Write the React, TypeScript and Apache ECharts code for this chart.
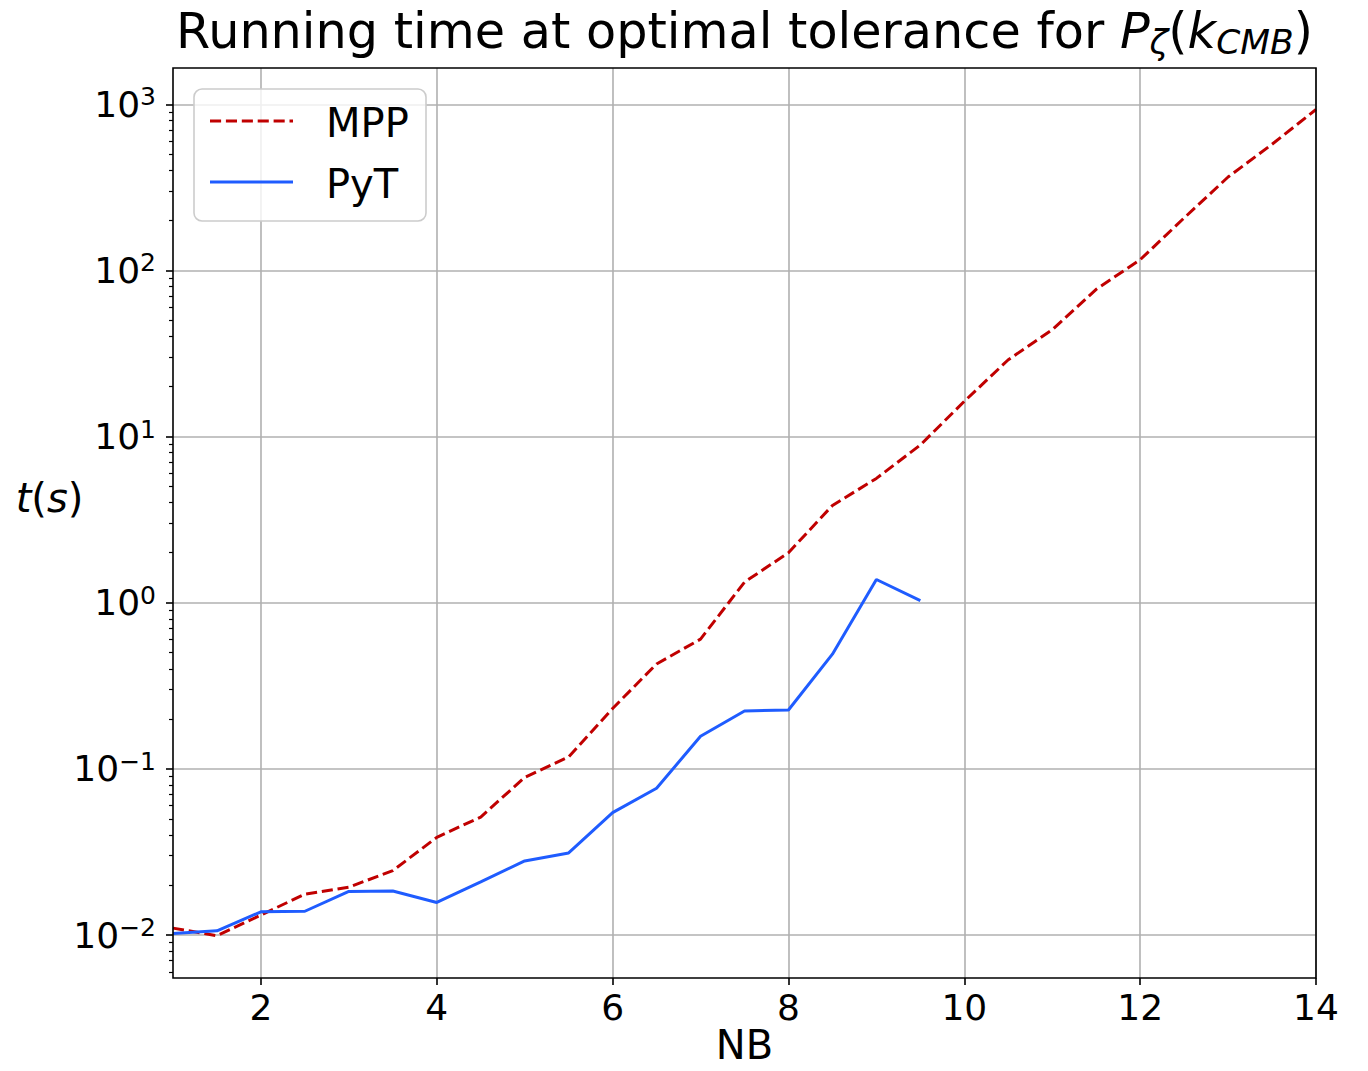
import React, { useEffect, useRef } from "react";
import * as echarts from "echarts";

// Number of blocks (x) and running times in seconds for each method
const nbValues = [
  1, 1.5, 2, 2.5, 3, 3.5, 4, 4.5, 5, 5.5, 6, 6.5, 7, 7.5, 8, 8.5, 9, 9.5, 10,
  10.5, 11, 11.5, 12, 12.5, 13, 13.5, 14,
];
const mppTimes = [
  0.011, 0.0099, 0.0132, 0.0176, 0.0194, 0.0244, 0.0387, 0.0513, 0.0889, 0.118,
  0.231, 0.428, 0.604, 1.33, 2.0, 3.85, 5.6, 8.9, 16.3, 29.0, 44.0, 77.0, 116,
  207, 365, 575, 930,
];
const pytNb = [1, 1.5, 2, 2.5, 3, 3.5, 4, 4.5, 5, 5.5, 6, 6.5, 7, 7.5, 8, 8.5, 9, 9.5];
const pytTimes = [
  0.0102, 0.0106, 0.0138, 0.0139, 0.0183, 0.0184, 0.0157, 0.0209, 0.0279, 0.0312,
  0.0545, 0.0765, 0.157, 0.223, 0.226, 0.49, 1.38, 1.03,
];

// Axis ticks
const xTicks = [2, 4, 6, 8, 10, 12, 14];
const yExponents = [-2, -1, 0, 1, 2, 3];

// Plot frame (pixels) and log10 range of the y axis
const FRAME = { left: 173, top: 68, width: 1143, height: 910 };
const Y_MIN = -2.2588;
const Y_MAX = 3.2185;
const X_MIN = 1;
const X_MAX = 14;

const RED = "#c00000";
const BLUE = "#1f5cff";
const FONT = "DejaVu Sans";

function minorLogTicks(): number[] {
  const out: number[] = [];
  for (let e = -3; e <= 3; e++) {
    for (let k = 2; k <= 9; k++) {
      const v = e + Math.log10(k);
      if (v > Y_MIN && v < Y_MAX) out.push(v);
    }
  }
  return out;
}

function supLabel(v: number): string {
  const e = Math.round(v);
  const s = e < 0 ? "\u2212" + String(-e) : String(e);
  return `{b|10}{e|${s}}`;
}

export default function App() {
  const ref = useRef<HTMLDivElement>(null);

  useEffect(() => {
    if (!ref.current) return;
    const chart = echarts.init(ref.current, undefined, { renderer: "svg" });

    const mppData = nbValues.map((x, i) => [x, Math.log10(mppTimes[i])]);
    const pytData = pytNb.map((x, i) => [x, Math.log10(pytTimes[i])]);

    const legendLeft = 194;
    const legendTop = 89;

    chart.setOption({
      animation: false,
      backgroundColor: "#ffffff",
      grid: {
        left: FRAME.left,
        top: FRAME.top,
        width: FRAME.width,
        height: FRAME.height,
        containLabel: false,
        outerBoundsMode: "none",
      },
      xAxis: {
        type: "value",
        min: X_MIN,
        max: X_MAX,
        axisLine: { show: false, onZero: false },
        axisTick: {
          show: true,
          customValues: xTicks,
          length: 7,
          lineStyle: { color: "#000", width: 1.6 },
        },
        axisLabel: {
          customValues: xTicks,
          fontFamily: FONT,
          fontSize: 36,
          color: "#000",
          margin: 11,
        },
        splitLine: { show: true, lineStyle: { color: "#b0b0b0", width: 1.6 } },
      },
      yAxis: [
        {
          type: "value",
          min: Y_MIN,
          max: Y_MAX,
          position: "left",
          axisLine: { show: false, onZero: false },
          axisTick: {
            show: true,
            customValues: yExponents,
            length: 7,
            lineStyle: { color: "#000", width: 1.6 },
          },
          axisLabel: {
            customValues: yExponents,
            margin: 17,
            formatter: (v: number) => supLabel(v),
            rich: {
              b: { fontFamily: FONT, fontSize: 36, color: "#000", lineHeight: 40 },
              e: {
                fontFamily: FONT,
                fontSize: 25,
                color: "#000",
                lineHeight: 26,
                verticalAlign: "top",
              },
            },
          },
          splitLine: { show: true, lineStyle: { color: "#b0b0b0", width: 1.6 } },
        },
        {
          type: "value",
          min: Y_MIN,
          max: Y_MAX,
          position: "left",
          axisLine: { show: false, onZero: false },
          axisLabel: { show: false },
          splitLine: { show: false },
          axisTick: {
            show: true,
            customValues: minorLogTicks(),
            length: 4,
            lineStyle: { color: "#000", width: 1.2 },
          },
        },
      ],
      series: [
        {
          name: "MPP",
          type: "line",
          data: mppData,
          yAxisIndex: 0,
          showSymbol: false,
          symbol: "none",
          lineStyle: { color: RED, width: 3, type: [11.1, 4.8] },
          z: 3,
        },
        {
          name: "PyT",
          type: "line",
          data: pytData,
          yAxisIndex: 0,
          showSymbol: false,
          symbol: "none",
          lineStyle: { color: BLUE, width: 3 },
          z: 4,
        },
      ],
      graphic: [
        // axes frame drawn above the grid lines
        {
          type: "rect",
          z: 50,
          silent: true,
          shape: {
            x: FRAME.left,
            y: FRAME.top,
            width: FRAME.width,
            height: FRAME.height,
          },
          style: { fill: "none", stroke: "#000", lineWidth: 1.6 },
        },
        // title with math parts
        {
          type: "text",
          z: 50,
          x: FRAME.left + FRAME.width / 2,
          y: 31,
          style: {
            text: "{n|Running time at optimal tolerance for }{i|P}{s|\u03b6}{n|(}{i|k}{s|CMB}{n|)}",
            align: "center",
            verticalAlign: "middle",
            rich: {
              n: { fontFamily: FONT, fontSize: 49.3, lineHeight: 56, fill: "#000" },
              i: {
                fontFamily: FONT,
                fontStyle: "italic",
                fontSize: 49.3,
                lineHeight: 56,
                fill: "#000",
              },
              s: {
                fontFamily: FONT,
                fontStyle: "italic",
                fontSize: 34.5,
                lineHeight: 30,
                verticalAlign: "bottom",
                fill: "#000",
              },
            },
          },
        },
        // x axis label
        {
          type: "text",
          z: 50,
          x: FRAME.left + FRAME.width / 2,
          y: 1045,
          style: {
            text: "NB",
            fontFamily: FONT,
            fontSize: 40,
            fill: "#000",
            align: "center",
            verticalAlign: "middle",
          },
        },
        // y axis label
        {
          type: "text",
          z: 50,
          x: 49.5,
          y: 498,
          style: {
            text: "{i|t}{n|(}{i|s}{n|)}",
            align: "center",
            verticalAlign: "middle",
            rich: {
              n: { fontFamily: FONT, fontSize: 40, fill: "#000" },
              i: { fontFamily: FONT, fontStyle: "italic", fontSize: 40, fill: "#000" },
            },
          },
        },
        // legend
        {
          type: "group",
          z: 60,
          children: [
            {
              type: "rect",
              z: 60,
              shape: { x: legendLeft, y: legendTop, width: 232, height: 132, r: 8 },
              style: { fill: "rgba(255,255,255,0.8)", stroke: "#cccccc", lineWidth: 1.6 },
            },
            {
              type: "line",
              z: 61,
              shape: { x1: legendLeft + 16, y1: 121, x2: legendLeft + 99, y2: 121 },
              style: { stroke: RED, lineWidth: 3, lineDash: [11.1, 4.8] },
            },
            {
              type: "line",
              z: 61,
              shape: { x1: legendLeft + 16, y1: 182, x2: legendLeft + 99, y2: 182 },
              style: { stroke: BLUE, lineWidth: 3 },
            },
            {
              type: "text",
              z: 61,
              x: legendLeft + 132,
              y: 123,
              style: {
                text: "MPP",
                fontFamily: FONT,
                fontSize: 40,
                fill: "#000",
                verticalAlign: "middle",
              },
            },
            {
              type: "text",
              z: 61,
              x: legendLeft + 132,
              y: 184,
              style: {
                text: "PyT",
                fontFamily: FONT,
                fontSize: 40,
                fill: "#000",
                verticalAlign: "middle",
              },
            },
          ],
        },
      ],
    });

    return () => {
      chart.dispose();
    };
  }, []);

  return (
    <div
      ref={ref}
      style={{ position: "fixed", left: 0, top: 0, width: 1368, height: 1071, background: "#fff" }}
    />
  );
}
